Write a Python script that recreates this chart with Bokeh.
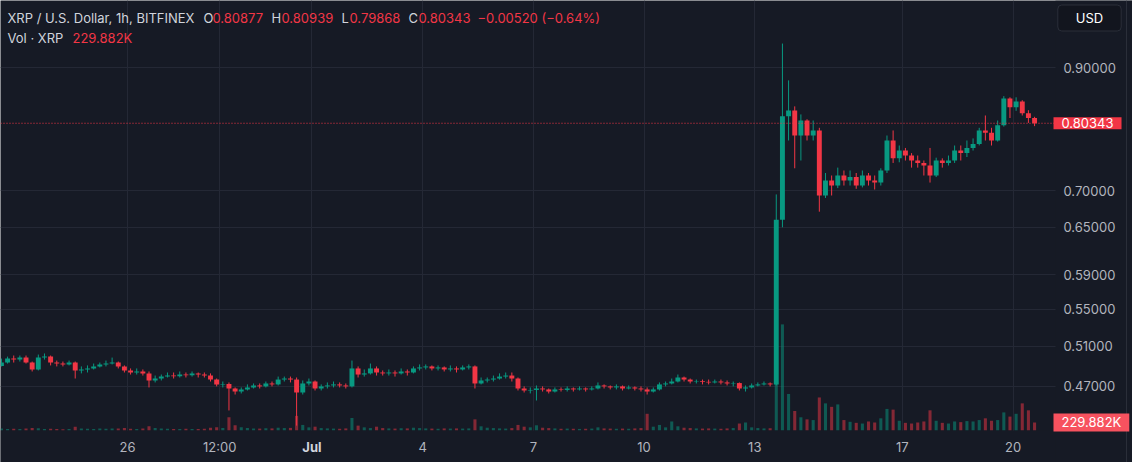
import numpy as np
import pandas as pd
from bokeh.plotting import figure
from bokeh.models import (Range1d, LinearScale, LogScale, FixedTicker, Grid, Span, Label,
                          BoxAnnotation, ColumnDataSource)
from bokeh.embed import file_html
from bokeh.resources import INLINE

# ---------------- data ----------------
start_time = "2023-06-22 12:00"
bar_hours = 4
first_open = 0.4900

close = [0.4935, 0.4975, 0.4965, 0.4985, 0.4935, 0.4866, 0.4985, 0.4995, 0.4935, 0.4925,
         0.4916, 0.4935, 0.4856, 0.4866, 0.4876, 0.4896, 0.4916, 0.4925, 0.4935, 0.4896,
         0.4856, 0.4836, 0.4846, 0.4827, 0.4758, 0.4777, 0.4796, 0.4806, 0.4800, 0.4816,
         0.4810, 0.4827, 0.4816, 0.4806, 0.4767, 0.4720, 0.4725, 0.4681, 0.4652, 0.4672,
         0.4691, 0.4710, 0.4701, 0.4729, 0.4720, 0.4767, 0.4777, 0.4767, 0.4643, 0.4729,
         0.4748, 0.4681, 0.4701, 0.4710, 0.4720, 0.4710, 0.4701, 0.4876, 0.4816, 0.4827,
         0.4876, 0.4836, 0.4827, 0.4836, 0.4827, 0.4846, 0.4836, 0.4876, 0.4886, 0.4896,
         0.4876, 0.4886, 0.4866, 0.4876, 0.4866, 0.4886, 0.4896, 0.4729, 0.4758, 0.4767,
         0.4777, 0.4796, 0.4806, 0.4777, 0.4681, 0.4662, 0.4667, 0.4681, 0.4672, 0.4652,
         0.4672, 0.4667, 0.4681, 0.4672, 0.4681, 0.4672, 0.4681, 0.4710, 0.4701, 0.4691,
         0.4701, 0.4681, 0.4691, 0.4681, 0.4672, 0.4652, 0.4672, 0.4720, 0.4729, 0.4748,
         0.4787, 0.4767, 0.4748, 0.4752, 0.4745, 0.4739, 0.4748, 0.4739, 0.4729, 0.4733,
         0.4681, 0.4691, 0.4710, 0.4720, 0.4729, 0.4720, 0.6600, 0.8150, 0.8245, 0.7836,
         0.8080, 0.7836, 0.7917, 0.6935, 0.7150, 0.7077, 0.7223, 0.7150, 0.7200, 0.7077,
         0.7223, 0.7150, 0.7120, 0.7297, 0.7757, 0.7480, 0.7600, 0.7523, 0.7447, 0.7410,
         0.7372, 0.7223, 0.7447, 0.7410, 0.7447, 0.7600, 0.7560, 0.7640, 0.7700, 0.7917,
         0.7880, 0.7757, 0.8000, 0.8450, 0.8300, 0.8400, 0.8200, 0.8120, 0.80343]

high = [0.4975, 0.4995, 0.5006, 0.5006, 0.5006, 0.4945, 0.5016, 0.5027, 0.5006, 0.4955,
        0.4945, 0.4955, 0.4945, 0.4896, 0.4906, 0.4925, 0.4935, 0.4955, 0.4985, 0.4945,
        0.4906, 0.4876, 0.4876, 0.4866, 0.4846, 0.4806, 0.4816, 0.4836, 0.4836, 0.4846,
        0.4836, 0.4846, 0.4836, 0.4836, 0.4827, 0.4777, 0.4748, 0.4739, 0.4691, 0.4691,
        0.4720, 0.4729, 0.4729, 0.4748, 0.4748, 0.4796, 0.4796, 0.4796, 0.4787, 0.4758,
        0.4777, 0.4758, 0.4720, 0.4739, 0.4748, 0.4739, 0.4729, 0.4955, 0.4896, 0.4866,
        0.4925, 0.4896, 0.4856, 0.4866, 0.4856, 0.4876, 0.4866, 0.4896, 0.4916, 0.4916,
        0.4906, 0.4906, 0.4896, 0.4906, 0.4896, 0.4906, 0.4916, 0.4906, 0.4787, 0.4787,
        0.4806, 0.4827, 0.4836, 0.4836, 0.4787, 0.4701, 0.4691, 0.4710, 0.4701, 0.4681,
        0.4691, 0.4691, 0.4701, 0.4691, 0.4701, 0.4691, 0.4701, 0.4739, 0.4720, 0.4710,
        0.4720, 0.4710, 0.4710, 0.4701, 0.4701, 0.4691, 0.4691, 0.4739, 0.4748, 0.4777,
        0.4816, 0.4796, 0.4777, 0.4767, 0.4767, 0.4767, 0.4767, 0.4767, 0.4758, 0.4748,
        0.4739, 0.4710, 0.4729, 0.4739, 0.4748, 0.4739, 0.6950, 0.9450, 0.8767, 0.8315,
        0.8180, 0.8100, 0.8079, 0.7960, 0.7260, 0.7223, 0.7340, 0.7297, 0.7297, 0.7260,
        0.7297, 0.7260, 0.7223, 0.7330, 0.7836, 0.7917, 0.7678, 0.7640, 0.7560, 0.7523,
        0.7447, 0.7640, 0.7490, 0.7480, 0.7523, 0.7678, 0.7678, 0.7757, 0.7790, 0.7960,
        0.8162, 0.7960, 0.8079, 0.8490, 0.8470, 0.8470, 0.8420, 0.8250, 0.8140]

low = [0.4896, 0.4925, 0.4935, 0.4945, 0.4925, 0.4846, 0.4856, 0.4965, 0.4906, 0.4896,
       0.4896, 0.4906, 0.4777, 0.4827, 0.4836, 0.4866, 0.4886, 0.4896, 0.4916, 0.4876,
       0.4836, 0.4816, 0.4816, 0.4806, 0.4691, 0.4739, 0.4758, 0.4787, 0.4777, 0.4787,
       0.4787, 0.4796, 0.4787, 0.4787, 0.4748, 0.4701, 0.4691, 0.4476, 0.4624, 0.4634,
       0.4662, 0.4681, 0.4681, 0.4691, 0.4701, 0.4710, 0.4748, 0.4739, 0.4340, 0.4624,
       0.4710, 0.4662, 0.4662, 0.4681, 0.4691, 0.4691, 0.4681, 0.4691, 0.4787, 0.4796,
       0.4816, 0.4806, 0.4806, 0.4806, 0.4796, 0.4816, 0.4806, 0.4827, 0.4856, 0.4866,
       0.4856, 0.4856, 0.4846, 0.4846, 0.4836, 0.4856, 0.4866, 0.4681, 0.4720, 0.4739,
       0.4748, 0.4767, 0.4777, 0.4748, 0.4662, 0.4643, 0.4634, 0.4568, 0.4652, 0.4634,
       0.4643, 0.4652, 0.4652, 0.4652, 0.4662, 0.4652, 0.4662, 0.4672, 0.4681, 0.4672,
       0.4672, 0.4662, 0.4672, 0.4662, 0.4652, 0.4624, 0.4643, 0.4662, 0.4701, 0.4720,
       0.4739, 0.4748, 0.4729, 0.4729, 0.4720, 0.4720, 0.4729, 0.4720, 0.4710, 0.4701,
       0.4662, 0.4652, 0.4681, 0.4701, 0.4710, 0.4701, 0.4710, 0.6500, 0.7757, 0.7330,
       0.7447, 0.7757, 0.7757, 0.6710, 0.6900, 0.6935, 0.7040, 0.7077, 0.7077, 0.7030,
       0.7050, 0.7077, 0.7020, 0.7077, 0.7260, 0.7410, 0.7420, 0.7447, 0.7340, 0.7340,
       0.7223, 0.7120, 0.7200, 0.7340, 0.7372, 0.7410, 0.7447, 0.7500, 0.7600, 0.7680,
       0.7757, 0.7678, 0.7740, 0.7980, 0.8120, 0.8240, 0.8162, 0.8040, 0.7987]

volume_k = [60, 45, 50, 40, 55, 70, 65, 45, 50, 40, 35, 45,
            110,
            60, 50, 45, 55, 50, 60, 55, 70, 50, 45, 55,
            120,
            70, 55, 50, 45, 40, 50, 45, 40, 50, 80, 90, 70,
            380,
            150, 90, 70, 60, 55, 65, 60, 80, 70, 75,
            420,
            160, 90, 110, 70, 60, 55, 50, 60,
            360,
            140, 90, 70, 110, 70, 60, 55, 65, 60, 80, 70, 60, 55, 50, 60, 55, 60, 55, 60,
            320,
            120, 80, 70, 60, 55, 70, 160, 110, 90,
            150,
            80, 70, 60, 50, 55, 50, 45, 50, 55, 90, 60, 55, 50, 55, 50, 60, 70,
            480,
            110, 160, 90, 260, 120, 80, 70, 60, 55, 60, 55, 50, 60, 70,
            200, 230, 90, 70, 60, 65,
            2950, 3050, 1050, 560, 380, 320, 300, 950, 780, 680, 750, 300, 250, 220, 200,
            260, 230, 350, 620, 600, 280, 220, 200, 230, 260, 580, 280, 220, 200, 260, 240,
            270, 260, 300, 350, 280, 300, 520, 400, 480, 780, 580, 229.882]

tick_dates = ["2023-06-26 00:00", "2023-06-28 12:00", "2023-07-01 00:00", "2023-07-04 00:00",
              "2023-07-07 00:00", "2023-07-10 00:00", "2023-07-13 00:00", "2023-07-17 00:00",
              "2023-07-20 00:00"]
tick_labels = ["26", "12:00", "Jul", "4", "7", "10", "13", "17", "20"]
month_labels = ["Jul"]
price_ticks = [0.47, 0.51, 0.55, 0.59, 0.65, 0.70, 0.90]

last_open, last_high, last_low, last_close = 0.80877, 0.80939, 0.79868, 0.80343
last_change, last_change_pct = -0.00520, -0.64
last_volume = 229882

# ---------------- styling ----------------
BG = "#161a25"
GRID = "#242835"
TXT = "#b2b5be"
LEG = "#d1d4dc"
UP = "#089981"
DN = "#f23645"
VOLBOX = "#f7525f"
FONT = "Inter"
W, H = 1132, 462

t0 = pd.Timestamp(start_time)
n = len(close)
opens = [first_open] + close[:-1]
xs = [bar_hours * i + bar_hours / 2 for i in range(n)]
colors = [UP if c >= o else DN for o, c in zip(opens, close)]
src = ColumnDataSource(dict(
    x=xs, o=opens, c=close, h=high, l=low,
    top=np.maximum(opens, close), bot=np.minimum(opens, close),
    color=colors, vol=[v * 1000 for v in volume_k]))

tick_h = [int((pd.Timestamp(d) - t0) / pd.Timedelta(hours=1)) for d in tick_dates]

p = figure(width=W, height=H, x_axis_location=None, y_axis_location=None,
           x_range=Range1d(1.4, 737.7), y_range=Range1d(0.4026, 1.0316),
           output_backend="svg", toolbar_location=None,
           background_fill_color=BG, border_fill_color=BG,
           min_border_left=0, min_border_top=0, min_border_right=0, min_border_bottom=0)
# drop the default grids; the chart's own grids are added below
for g in list(p.grid):
    g.visible = False
    g.grid_line_color = None
p.y_scale = LogScale()
p.outline_line_color = None
p.extra_y_ranges = {"vol": Range1d(-0.92e6, 12.36e6)}
p.extra_y_scales = {"vol": LinearScale()}

# grid lines
p.add_layout(Grid(dimension=0, ticker=FixedTicker(ticks=tick_h), grid_line_color=GRID))
p.add_layout(Grid(dimension=1, ticker=FixedTicker(ticks=price_ticks), grid_line_color=GRID))

# volume
p.vbar(x="x", width=2.0, top="vol", bottom=0, y_range_name="vol", source=src,
       fill_color="color", fill_alpha=0.5, line_color=None)
# candles
p.segment(x0="x", x1="x", y0="l", y1="h", line_color="color", line_width=1, source=src)
p.vbar(x="x", width=3.2, top="top", bottom="bot", fill_color="color", line_color=None, source=src)

# last price line
p.add_layout(Span(location=last_close, dimension="width", line_color=DN,
                  line_dash="1 2", line_width=1.2))

# scale areas (price scale on the right, time scale below)
p.add_layout(BoxAnnotation(left=1055, right=W, bottom=0, top=H,
                           left_units="screen", right_units="screen",
                           bottom_units="screen", top_units="screen",
                           fill_color=BG, fill_alpha=1.0, line_color=None))
p.add_layout(BoxAnnotation(left=0, right=1055, top=0, bottom=-0.92e6,
                           left_units="screen", right_units="screen", y_range_name="vol",
                           fill_color=BG, fill_alpha=1.0, line_color=None))
p.add_layout(Span(location=1126, location_units="screen", dimension="height",
                  line_color="#2a2e39", line_width=1))

# price scale labels
for v in price_ticks:
    p.add_layout(Label(x=1063, y=v, x_units="screen", y_units="data",
                       text=f"{v:.5f}", text_align="left", text_baseline="middle",
                       text_font=FONT, text_font_size="13px", text_color=TXT))

# time scale labels
for h, t in zip(tick_h, tick_labels):
    bold = t in month_labels
    p.add_layout(Label(x=h, y=H - 446, x_units="data", y_units="screen",
                       text=t, text_align="center", text_baseline="middle",
                       text_font=FONT, text_font_size="13px",
                       text_font_style="bold" if bold else "normal",
                       text_color=LEG if bold else TXT))

# price and volume markers on the scale
p.add_layout(Label(x=1053, y=last_close, x_units="screen", y_units="data",
                   text=f"{last_close:.5f}", text_align="left", text_baseline="middle",
                   text_font=FONT, text_font_size="13px", text_color="#ffffff",
                   background_fill_color=DN, padding=(8, 1)))
p.add_layout(Label(x=1053, y=last_volume, x_units="screen", y_units="data", y_range_name="vol",
                   text=f"{last_volume/1000:.3f}K", text_align="left", text_baseline="middle",
                   text_font=FONT, text_font_size="13px", text_color="#ffffff",
                   background_fill_color=VOLBOX, padding=(8, 1)))
p.add_layout(Label(x=1089, y=H - 17.5, x_units="screen", y_units="screen",
                   text="USD", text_align="center", text_baseline="middle",
                   text_font=FONT, text_font_size="13px", text_color="#ffffff",
                   background_fill_color="#12151e", border_line_color="#2a2e39",
                   border_radius=4, padding=(18, 5)))

# legend header
def lab(x, y, t, c):
    p.add_layout(Label(x=x, y=H - y, x_units="screen", y_units="screen", text=t,
                       text_align="left", text_baseline="middle",
                       text_font=FONT, text_font_size="13px", text_color=c))

lab(7, 17.5, "XRP / U.S. Dollar, 1h, BITFINEX", LEG)
lab(203, 17.5, "O", LEG)
lab(212, 17.5, f"{last_open:.5f}", DN)
lab(271, 17.5, "H", LEG)
lab(281, 17.5, f"{last_high:.5f}", DN)
lab(341, 17.5, "L", LEG)
lab(349, 17.5, f"{last_low:.5f}", DN)
lab(408, 17.5, "C", LEG)
lab(418, 17.5, f"{last_close:.5f}", DN)
lab(477, 17.5, f"\u2212{abs(last_change):.5f} (\u2212{abs(last_change_pct):.2f}%)", DN)
lab(7, 37, "Vol \u00b7 XRP", LEG)
lab(72, 37, f"{last_volume/1000:.3f}K", DN)

open("out.html", "w").write(file_html(p, INLINE))
